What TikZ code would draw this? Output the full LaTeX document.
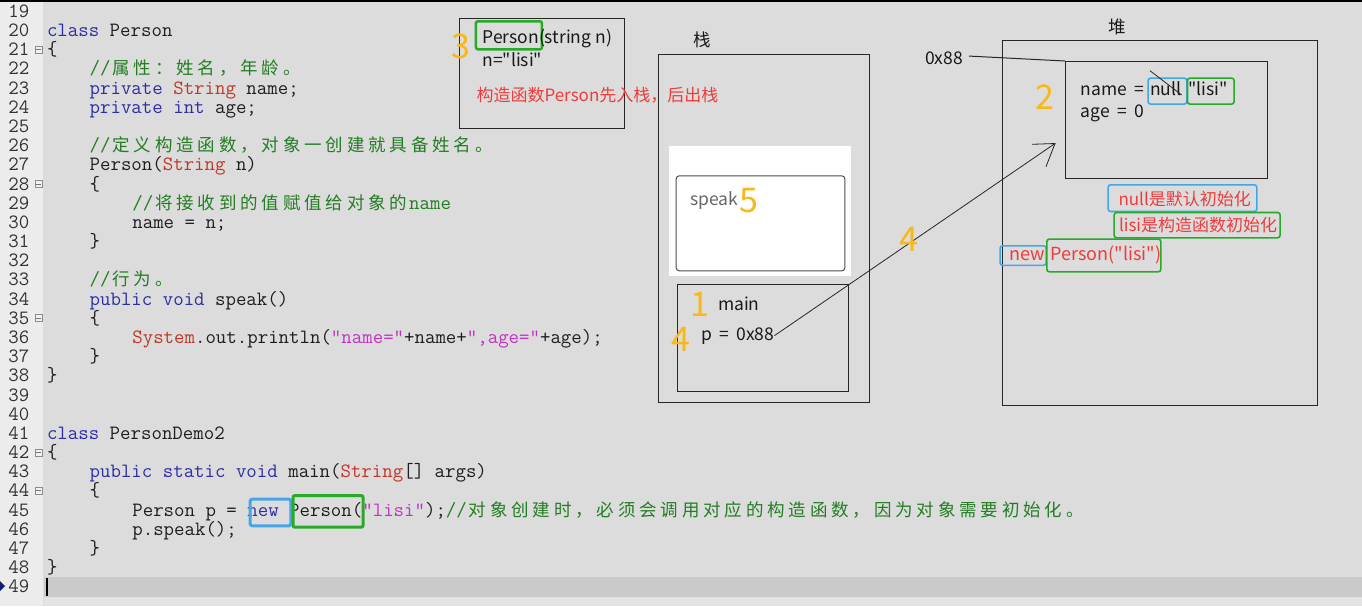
\documentclass[tikz,border=0pt]{standalone}
\usepackage{fontspec}
\newfontfamily\dfont{Noto Sans CJK SC}
\newfontfamily\cjkf{Noto Sans CJK SC}
\definecolor{codebg}{RGB}{220,220,220}
\definecolor{gutbg}{RGB}{236,236,236}
\definecolor{hlband}{RGB}{202,202,202}
\definecolor{lowbg}{RGB}{228,228,228}
\definecolor{kwblue}{RGB}{45,45,165}
\definecolor{tyred}{RGB}{190,55,40}
\definecolor{cmgreen}{RGB}{35,125,35}
\definecolor{strmag}{RGB}{195,50,195}
\definecolor{numor}{RGB}{248,184,22}
\definecolor{lblred}{RGB}{238,60,60}
\definecolor{bxblue}{RGB}{70,165,230}
\definecolor{bxgreen}{RGB}{40,170,40}
\definecolor{navymark}{RGB}{20,30,110}
\definecolor{codeblack}{RGB}{30,30,30}
\makeatletter
\newcommand\cj[1]{{\cjkf\fontsize{17.5}{18}\selectfont\@tfor\cj@c:=#1\do{\makebox[21.33pt][c]{\cj@c}}}}
\makeatother
\newcommand\kwd[1]{\textcolor{kwblue}{#1}}
\newcommand\typ[1]{\textcolor{tyred}{#1}}
\newcommand\cmt[1]{\textcolor{cmgreen}{#1}}
\newcommand\strl[1]{\textcolor{strmag}{#1}}
\newcommand\LB[1]{{36.6+(#1-20)*19.18}}
\newcommand\wsp{\hspace{7.5pt}}
\begin{document}
\begin{tikzpicture}[x=1pt,y=-1pt,
  code/.style={anchor=base west, inner sep=0pt, outer sep=0pt, text=codeblack, font=\ttfamily\fontsize{20.3}{20}\selectfont},
  lnum/.style={code, text=black!80},
  fold/.style={draw=black!45, line width=0.7pt, minimum size=7pt, inner sep=0pt, fill=white!90!gray},
  box/.style={draw=black!85, line width=1pt, inner sep=0pt, anchor=north west},
  dtx/.style={anchor=base west, inner sep=0pt, outer sep=0pt, text=black!90, font=\dfont\fontsize{17.5}{20}\selectfont},
  rtx/.style={dtx, text=lblred, font=\dfont\fontsize{17}{20}\selectfont},
  num/.style={anchor=base west, inner sep=0pt, text=numor, font=\dfont\fontsize{34}{34}\selectfont},
  hb/.style={draw=bxblue, line width=1.6pt, rounded corners=2.5pt, inner sep=0pt, anchor=north west},
  hg/.style={draw=bxgreen, line width=1.6pt, rounded corners=2.5pt, inner sep=0pt, anchor=north west},
]
\useasboundingbox (0,0) rectangle (1362,606);
% backgrounds
\fill[codebg] (0,0) rectangle (1362,606);
\fill[gutbg] (0,0) rectangle (43,606);
\fill[hlband] (44,577) rectangle (1362,597);
\fill[lowbg] (44,597) rectangle (1362,606);
\fill[black] (0,0) rectangle (1362,2);
\fill[navymark] (0,581) -- (5,586) -- (0,591) -- cycle;
\fill[black] (45.5,578) rectangle (47.5,596);

% line numbers
\foreach \n in {19,...,49} \node[lnum] (ln\n) at (8.5,\LB{\n}) {\n};
\foreach \n in {21,28,35,42,44} {
  \node[fold] (fd\n) at (38.5,{30.5+(\n-20)*19.18}) {};
  \draw[black!55, line width=0.7pt] ([xshift=1.5pt]fd\n.west) -- ([xshift=-1.5pt]fd\n.east);
}

% code
\node[code] (c20) at ({47+0*10.67},\LB{20}) {\kwd{class} Person};
\node[code] (c21) at ({47+0*10.67},\LB{21}) {\{};
\node[code] (c22) at ({47+4*10.67},\LB{22}) {\cmt{//\cj{属性：姓名，年龄。}}};
\node[code] (c23) at ({47+4*10.67},\LB{23}) {\kwd{private} \typ{String} name;};
\node[code] (c24) at ({47+4*10.67},\LB{24}) {\kwd{private} \kwd{int} age;};
\node[code] (c26) at ({47+4*10.67},\LB{26}) {\cmt{//\cj{定义构造函数，对象一创建就具备姓名。}}};
\node[code] (c27) at ({47+4*10.67},\LB{27}) {Person(\typ{String} n)};
\node[code] (c28) at ({47+4*10.67},\LB{28}) {\{};
\node[code] (c29) at ({47+8*10.67},\LB{29}) {\cmt{//\cj{将接收到的值赋值给对象的}name}};
\node[code] (c30) at ({47+8*10.67},\LB{30}) {name = n;};
\node[code] (c31) at ({47+4*10.67},\LB{31}) {\}};
\node[code] (c33) at ({47+4*10.67},\LB{33}) {\cmt{//\cj{行为。}}};
\node[code] (c34) at ({47+4*10.67},\LB{34}) {\kwd{public} \kwd{void} speak()};
\node[code] (c35) at ({47+4*10.67},\LB{35}) {\{};
\node[code] (c36) at ({47+8*10.67},\LB{36}) {\typ{System}.out.println(\strl{"name="}+name+\strl{",age="}+age);};
\node[code] (c37) at ({47+4*10.67},\LB{37}) {\}};
\node[code] (c38) at ({47+0*10.67},\LB{38}) {\}};
\node[code] (c41) at ({47+0*10.67},\LB{41}) {\kwd{class} PersonDemo2};
\node[code] (c42) at ({47+0*10.67},\LB{42}) {\{};
\node[code] (c43) at ({47+4*10.67},\LB{43}) {\kwd{public} \kwd{static} \kwd{void} main(\typ{String}[] args)};
\node[code] (c44) at ({47+4*10.67},\LB{44}) {\{};
\node[code] (c45) at ({47+8*10.67},\LB{45}) {Person p = \kwd{new} Person(\strl{"lisi"});\cmt{//\cj{对象创建时，必须会调用对应的构造函数，因为对象需要初始化。}}};
\node[code] (c46) at ({47+8*10.67},\LB{46}) {p.speak();};
\node[code] (c47) at ({47+4*10.67},\LB{47}) {\}};
\node[code] (c48) at ({47+0*10.67},\LB{48}) {\}};

% code highlights
\node[draw=bxblue, line width=3pt, rounded corners=2pt, inner sep=0pt, anchor=north west, minimum width=40.6pt, minimum height=26.6pt] (hnew) at (248.7,497.7) {};
\node[draw=bxgreen, line width=3pt, rounded corners=2pt, inner sep=0pt, anchor=north west, minimum width=70.1pt, minimum height=31.7pt] (hper) at (291.5,494) {};

% constructor frame
\node[box, minimum width=165pt, minimum height=110pt] (frameA) at (459.3,18.3) {};
\node[draw=bxgreen, line width=2.5pt, rounded corners=2pt, inner sep=0pt, anchor=north west, minimum width=66pt, minimum height=28pt] (hpa) at (474.7,20) {};
\node[dtx] (pcons) at (482.5,43.5) {Person(string n)};
\node[dtx] (nval) at (482.5,66) {n="lisi"};
\node[rtx] (note1) at (476.5,101.5) {构造函数Person先入栈，后出栈};
\node[num] (n3) at (451,58) {3};

% stack
\node[dtx, anchor=center] (stlbl) at (702,40) {栈};
\node[box, minimum width=210.7pt, minimum height=348pt] (stack) at (658.3,54.3) {};
\node[fill=white, inner sep=0pt, anchor=north west, minimum width=182pt, minimum height=130pt] (wbg) at (669,146) {};
\node[draw=black!70, line width=1pt, rounded corners=3pt, inner sep=0pt, anchor=north west, minimum width=168.6pt, minimum height=95pt] (speakf) at (675.7,175.3) {};
\node[dtx, text=black!60] (speak) at (690.5,205.5) {speak};
\node[num] (n5) at (739,212.7) {5};
\node[box, minimum width=170.4pt, minimum height=107pt] (mainf) at (677.3,284) {};
\node[num] (n1) at (690,316.7) {1};
\node[dtx] (mainl) at (718,310) {main};
\node[num] (n4a) at (671,351) {4};
\node[dtx] (pval) at (701,340) {p\wsp=\wsp0x88};

% heap
\node[dtx, anchor=center] (hplbl) at (1117,27) {堆};
\node[box, minimum width=315pt, minimum height=365pt] (heap) at (1002.3,40) {};
\node[box, minimum width=201.7pt, minimum height=117.3pt] (obj) at (1065,61) {};
\node[dtx] (addr) at (925,64) {0x88};
\draw[black!85, line width=1pt] (addr.east) ++(6,-1.7) coordinate (addrs) (addrs) -- (obj.north west);
\node[num] (n2) at (1035,109) {2};
\node[hb, minimum width=38.7pt, minimum height=26pt] (bnull) at (1147.3,77.3) {};
\node[hg, minimum width=46.6pt, minimum height=26pt] (blisi) at (1186.7,77.3) {};
\node[dtx] (namel) at (1080.7,95) {name\wsp=};
\node[dtx] (nullv) at (1150,95) {null};
\node[dtx] (lisiv) at (1188.5,95) {"lisi"};
\node[dtx] (agel) at (1080.7,117.3) {age\wsp=\wsp0};
\coordinate (s1) at (1150,70.7);
\coordinate (s2) at (1181.7,95);
\draw[black!85, line width=0.8pt] (s1) -- (s2);

% labels in heap
\node[hb, minimum width=148.7pt, minimum height=26.7pt] (bn1) at (1107.3,184) {};
\node[rtx] (t1) at (1118.5,205) {null是默认初始化};
\node[hg, minimum width=166pt, minimum height=25.3pt] (bn2) at (1113.3,211.7) {};
\node[rtx] (t2) at (1119,231.5) {lisi是构造函数初始化};
\node[hb, minimum width=46pt, minimum height=19.5pt] (bn3) at (999.3,245) {};
\node[hg, minimum width=114pt, minimum height=32.7pt] (bn4) at (1046,238.3) {};
\node[rtx, font=\dfont\fontsize{18}{20}\selectfont] (t3) at (1009.5,260.5) {new};
\node[rtx, font=\dfont\fontsize{18}{20}\selectfont] (t4) at (1050.5,260.5) {Person("lisi")};

% reference arrow
\coordinate (tip) at (1055,143.5);
\coordinate (hA) at (1032,144.3);
\coordinate (hB) at (1046,166.7);
\draw[black!85, line width=0.8pt] (pval.east) -- (tip);
\draw[black!85, line width=0.8pt] (hA) -- (tip) -- (hB);
\node[num] (n4b) at (899,251.7) {4};
\end{tikzpicture}
\end{document}
